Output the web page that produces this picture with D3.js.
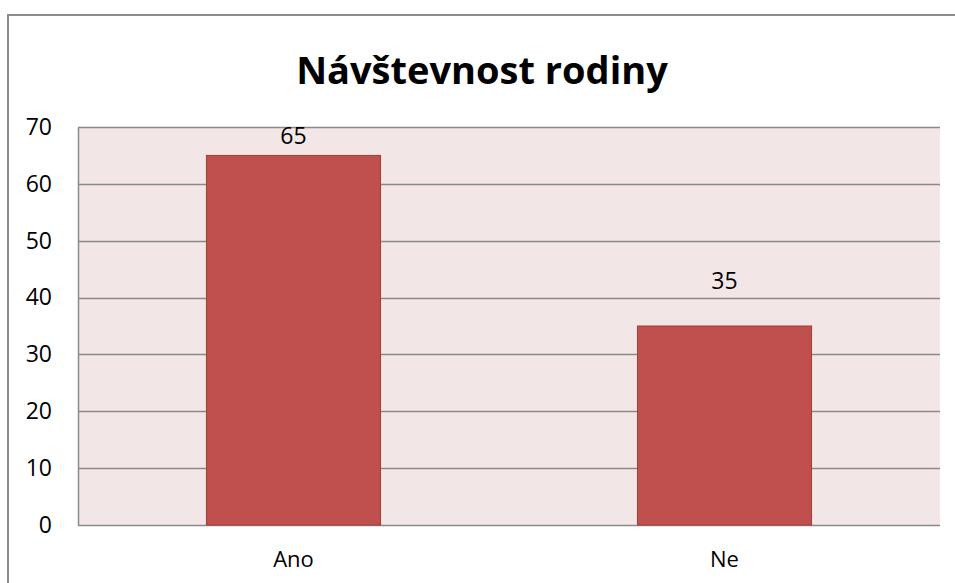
<!DOCTYPE html>
<html>
<head>
<meta charset="utf-8">
<script src="https://cdn.jsdelivr.net/npm/d3@7"></script>
<style>
    body { margin: 0; background: #fff; }
    text { font-family: "Open Sans", "Liberation Sans", sans-serif; fill: #000; }
</style>
</head>
<body>
<div id="chart"></div>
<script>
// chart data
var categories = ["Ano", "Ne"];
var values = [65, 35];
var yTicks = [0, 10, 20, 30, 40, 50, 60, 70];
var title = "Návštevnost rodiny";

var width = 955;
var height = 583;
var margin = { top: 127, right: 15, bottom: 58, left: 78 };
var plotW = width - margin.left - margin.right;
var plotH = height - margin.top - margin.bottom;

var svg = d3.select("#chart")
    .append("svg")
    .attr("width", width)
    .attr("height", height);

// outer chart border (runs off the right and bottom edges)
svg.append("rect")
    .attr("x", 8)
    .attr("y", 15)
    .attr("width", 980)
    .attr("height", 620)
    .attr("fill", "#fff")
    .attr("stroke", "#8c8c8c")
    .attr("stroke-width", 2);

svg.append("text")
    .attr("x", 482)
    .attr("y", 84)
    .attr("text-anchor", "middle")
    .style("font-size", "38px")
    .style("font-weight", "bold")
    .text(title);

var g = svg.append("g")
    .attr("transform", "translate(" + margin.left + "," + margin.top + ")");

var x = d3.scaleBand()
    .domain(categories)
    .range([0, plotW])
    .paddingInner(0.596)
    .paddingOuter(0.298);

var y = d3.scaleLinear()
    .domain([0, 70])
    .range([plotH, 0]);

// plot background
g.append("rect")
    .attr("width", plotW)
    .attr("height", plotH)
    .attr("fill", "#f2e7e6");

// gridlines
g.selectAll(".grid")
    .data(yTicks)
    .enter().append("line")
    .attr("class", "grid")
    .attr("x1", 0)
    .attr("x2", plotW)
    .attr("y1", function (d) { return Math.round(y(d)) + 0.5; })
    .attr("y2", function (d) { return Math.round(y(d)) + 0.5; })
    .attr("stroke", "#8a8a8a")
    .attr("stroke-width", 1.5);

// y axis
var yAxis = g.append("g")
    .call(d3.axisLeft(y).tickValues(yTicks).tickSize(0).tickPadding(26));
yAxis.select(".domain").attr("stroke", "#8a8a8a").attr("stroke-width", 1.5);
yAxis.selectAll("text")
    .style("font-size", "23px")
    .style("font-family", "'Open Sans', sans-serif")
    .attr("fill", "#000");

// x axis
var xAxis = g.append("g")
    .attr("transform", "translate(0," + plotH + ")")
    .call(d3.axisBottom(x).tickSize(0).tickPadding(26));
xAxis.select(".domain").remove();
xAxis.selectAll("text")
    .style("font-size", "22px")
    .style("font-family", "'Open Sans', sans-serif")
    .attr("fill", "#000");

var data = categories.map(function (c, i) { return { cat: c, value: values[i] }; });

// bars
g.selectAll(".bar")
    .data(data)
    .enter().append("rect")
    .attr("class", "bar")
    .attr("x", function (d) { return x(d.cat); })
    .attr("y", function (d) { return y(d.value); })
    .attr("width", x.bandwidth())
    .attr("height", function (d) { return plotH - y(d.value); })
    .attr("fill", "#c0504d")
    .attr("stroke", "#9b3e3b")
    .attr("stroke-width", 1);

// value labels (Excel put the small one higher up)
var labelGap = { Ano: 11, Ne: 37 };
g.selectAll(".label")
    .data(data)
    .enter().append("text")
    .attr("class", "label")
    .attr("x", function (d) { return x(d.cat) + x.bandwidth() / 2; })
    .attr("y", function (d) { return y(d.value) - labelGap[d.cat]; })
    .attr("text-anchor", "middle")
    .style("font-size", "23px")
    .text(function (d) { return d.value; });
</script>
</body>
</html>
